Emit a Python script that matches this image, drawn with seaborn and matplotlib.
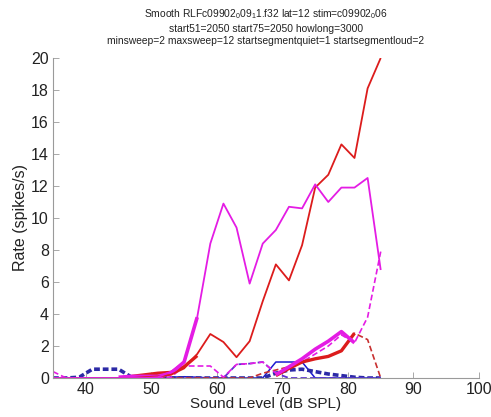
import numpy as np
import pandas as pd
import matplotlib
matplotlib.use("Agg")
import matplotlib.pyplot as plt
import seaborn as sns

levels = [35, 37, 39, 41, 43, 45, 47, 49, 51, 53, 55, 57, 59, 61, 63, 65, 67, 69, 71, 73, 75, 77, 79, 81, 83, 85]
N = None

red_solid = [0, 0, 0, 0, 0, 0, 0, 0.05, 0.1, 0.2, 0.6, 1.5, 2.75, 2.25, 1.3, 2.3, 4.8, 7.1, 6.1, 8.3, 11.9, 12.7, 14.6, 13.75, 18.1, 20.0]
magenta_solid = [0, 0, 0, 0, 0, 0, 0, 0, 0.05, 0.4, 1.0, 3.8, 8.4, 10.9, 9.4, 5.9, 8.4, 9.25, 10.7, 10.6, 12.1, 11.0, 11.9, 11.9, 12.5, 6.75]
blue_solid = [0, 0, 0, 0, 0, 0, 0, 0, 0, 0.05, 0.08, 0.05, 0, 0, 0, 0, 0, 1.0, 1.0, 1.0, 0, 0, 0, 0, 0, 0]

red_thick = [N, N, N, N, N, N, 0.1, 0.2, 0.3, 0.35, 0.7, 1.4, N, N, N, N, N, 0.15, 0.6, 1.0, 1.2, 1.35, 1.7, 2.8, N, N]
magenta_thick = [N, N, N, N, N, 0.05, 0.1, 0.1, 0.1, 0.3, 1.0, 3.8, N, N, N, N, N, 0.2, 0.7, 1.2, 1.8, 2.3, 2.9, 2.2, N, N]
blue_thick_dashed = [0, 0, 0.05, 0.55, 0.55, 0.55, 0.05, 0, 0, 0, 0, 0, 0, 0, 0, 0, 0, 0.3, 0.5, 0.55, 0.4, 0.25, 0.15, 0.05, 0, 0]

red_dashed = [0, 0, 0, 0, 0, 0, 0, 0, 0, 0, 0, 0, 0, 0, 0, 0, 0.3, 0.5, 0.7, 1.0, 1.2, 1.35, 1.7, 2.8, 2.4, 0]
magenta_dashed = [0.4, 0, 0, 0, 0, 0, 0, 0, 0, 0.05, 0.75, 0.75, 0.75, 0.05, 0.85, 0.9, 1.0, 0.3, 0.6, 1.0, 1.5, 2.0, 2.7, 2.2, 3.8, 7.9]
blue_dashed = [0, 0, 0, 0, 0, 0, 0, 0, 0, 0, 0, 0, 0, 0, 0.85, 0.9, 1.0, 0.3, 0, 0, 0, 0, 0, 0, 0, 0]

title_lines = [
    "Smooth RLFc09902$_0$09$_1$1.f32 lat=12 stim=c09902$_0$06",
    "start51=2050 start75=2050 howlong=3000",
    "minsweep=2 maxsweep=12 startsegmentquiet=1 startsegmentloud=2",
]
xticks = [40, 50, 60, 70, 80, 90, 100]
yticks = [0, 2, 4, 6, 8, 10, 12, 14, 16, 18, 20]

sns.set_theme(style="white")
plt.rcParams['font.family'] = ['Liberation Sans', 'DejaVu Sans']
plt.rcParams['mathtext.fontset'] = 'custom'
plt.rcParams['mathtext.rm'] = 'Liberation Sans'
plt.rcParams['mathtext.it'] = 'Liberation Sans'

fig = plt.figure(figsize=(4.91, 4.17), dpi=100)
ax = fig.add_axes([0.108, 0.0935, 0.8676, 0.7675])

RED = "#dc1c1c"
MAG = "#e41ce4"
BLUE = "#1a1ad0"
NAVY = "#2c2aa6"


def draw(vals, color, lw, dashed=False, dash=(3.5, 1.8)):
    seg_x, seg_y = [], []
    segs = []
    for x, v in zip(levels, vals):
        if v is None:
            if seg_x:
                segs.append((seg_x, seg_y))
            seg_x, seg_y = [], []
        else:
            seg_x.append(x)
            seg_y.append(v)
    if seg_x:
        segs.append((seg_x, seg_y))
    for sx, sy in segs:
        df = pd.DataFrame({"level": sx, "rate": sy})
        sns.lineplot(data=df, x="level", y="rate", ax=ax, color=color,
                     linewidth=lw, legend=False)
        ln = ax.lines[-1]
        if dashed:
            ln.set_linestyle((0, dash))
        ln.set_solid_capstyle("butt")


draw(blue_solid, BLUE, 1.1)
draw(blue_thick_dashed, NAVY, 2.6, dashed=True, dash=(1.6, 0.8))
draw(blue_dashed, "#5a30d0", 1.3, dashed=True)
draw(red_dashed, "#c83030", 1.2, dashed=True)
draw(magenta_dashed, MAG, 1.2, dashed=True)
draw(red_thick, RED, 2.4)
draw(magenta_thick, MAG, 2.6)
draw(red_solid, RED, 1.3)
draw(magenta_solid, MAG, 1.3)

ax.set_xlim(35, 100)
ax.set_ylim(0, 20)
ax.set_xticks(xticks)
ax.set_yticks(yticks)
ax.tick_params(axis="both", direction="in", length=4, width=0.6, color="#9a9a9a",
               labelsize=11.5, labelcolor="#222222", pad=3,
               bottom=True, left=True, top=False, right=False)
for s in ["top", "right"]:
    ax.spines[s].set_visible(False)
for s in ["left", "bottom"]:
    ax.spines[s].set_color("#9a9a9a")
    ax.spines[s].set_linewidth(0.8)
ax.set_xlabel("Sound Level (dB SPL)", fontsize=11, labelpad=0, color="#222222")
ax.set_ylabel("Rate (spikes/s)", fontsize=11.5, labelpad=2, color="#222222")
ax.set_title("\n".join(title_lines), fontsize=7.4, linespacing=1.3, pad=10, color="#222222")

fig.savefig("out.png", dpi=100)
